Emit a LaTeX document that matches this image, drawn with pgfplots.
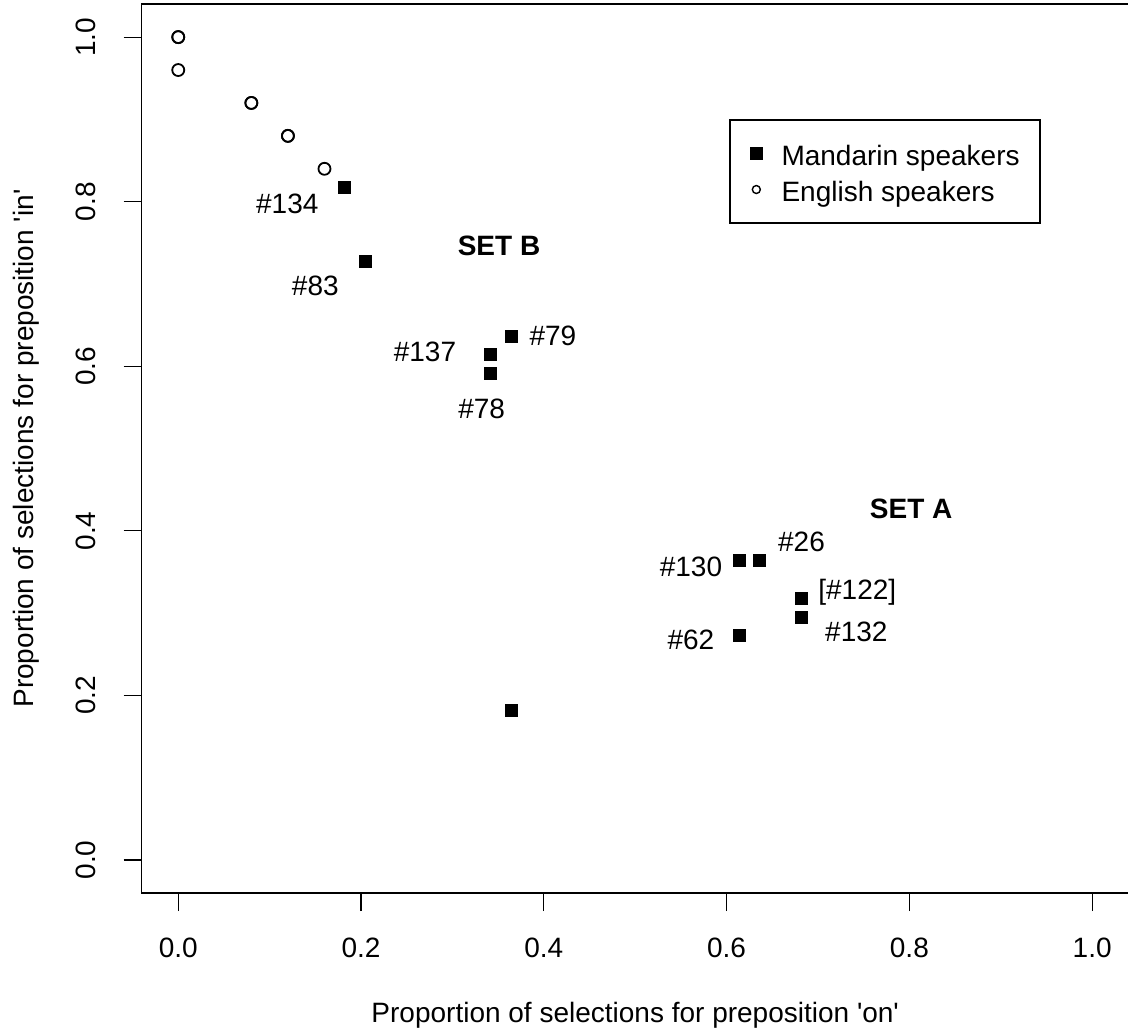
\documentclass[border=0pt]{standalone}
\usepackage{fontspec}
\setmainfont{Liberation Sans}
\usepackage{pgfplots}
\pgfplotsset{compat=1.18}
\begin{document}
\fontsize{14}{17}\selectfont
\begin{tikzpicture}
\begin{axis}[
  scale only axis, width=493.5pt, height=444.4pt,
  xmin=-0.04, xmax=1.04, ymin=-0.04, ymax=1.04,
  xtick={0,0.2,0.4,0.6,0.8,1}, ytick={0,0.2,0.4,0.6,0.8,1},
  xticklabels={0.0,0.2,0.4,0.6,0.8,1.0},
  yticklabels={0.0,0.2,0.4,0.6,0.8,1.0},
  tick align=outside, major tick length=9pt,
  xtick pos=bottom, ytick pos=left,
  axis line style={line width=0.75pt},
  every tick/.style={black, line width=0.6pt},
  xticklabel style={anchor=base, yshift=-23pt},
  yticklabel style={rotate=90, anchor=base},
  yticklabel shift=14pt,
  xlabel={Proportion of selections for preposition \textquotesingle on\textquotesingle},
  ylabel={Proportion of selections for preposition \textquotesingle in\textquotesingle},
  xlabel style={at={(axis description cs:0.5,0)}, anchor=base, yshift=-64.5pt},
  ylabel style={at={([xshift=-54.2pt]axis description cs:0,0.5)}, rotate=0, anchor=base},
  legend style={at={(axis cs:0.603,0.900)}, anchor=north west, draw=black,
    line width=0.6pt, inner xsep=10.2pt, inner ysep=10.75pt, column sep=9.6pt, row sep=6pt,
    nodes={inner sep=0pt, text height=12pt, text depth=0pt}, cells={anchor=west}},
]
\addplot[only marks, mark=square*, mark size=3pt, mark options={fill=black, draw=black, line width=0.35pt}]
 coordinates {(0.182,0.818) (0.2045,0.727) (0.364,0.636) (0.341,0.614) (0.341,0.591)
 (0.614,0.364) (0.636,0.364) (0.682,0.318) (0.682,0.295) (0.614,0.273) (0.364,0.182)};
\addlegendentry{Mandarin speakers}
\addplot[only marks, mark=o, mark size=3.0pt, mark options={draw=black, line width=0.9pt},
  legend image post style={mark size=2pt, mark options={line width=0.7pt}}]
 coordinates {(0,1.0) (0,1.0) (0,0.96) (0.08,0.92) (0.08,0.92) (0.12,0.88) (0.12,0.88) (0.16,0.84)};
\addlegendentry{English speakers}
\node[anchor=base] at (axis cs:0.1193,0.786) {\#134};
\node[anchor=base] at (axis cs:0.150,0.686) {\#83};
\node[anchor=base, font=\bfseries] at (axis cs:0.351,0.735) {SET B};
\node[anchor=base] at (axis cs:0.410,0.625) {\#79};
\node[anchor=base] at (axis cs:0.270,0.606) {\#137};
\node[anchor=base] at (axis cs:0.332,0.536) {\#78};
\node[anchor=base, font=\bfseries] at (axis cs:0.802,0.4155) {SET A};
\node[anchor=base] at (axis cs:0.561,0.345) {\#130};
\node[anchor=base] at (axis cs:0.682,0.375) {\#26};
\node[anchor=base] at (axis cs:0.743,0.3167) {[\#122]};
\node[anchor=base] at (axis cs:0.742,0.2655) {\#132};
\node[anchor=base] at (axis cs:0.561,0.256) {\#62};
\end{axis}
\pgfresetboundingbox
\useasboundingbox (current axis.south west) ++(-70.85pt,-70pt) rectangle ++(564pt,516.5pt);
\end{tikzpicture}
\end{document}
